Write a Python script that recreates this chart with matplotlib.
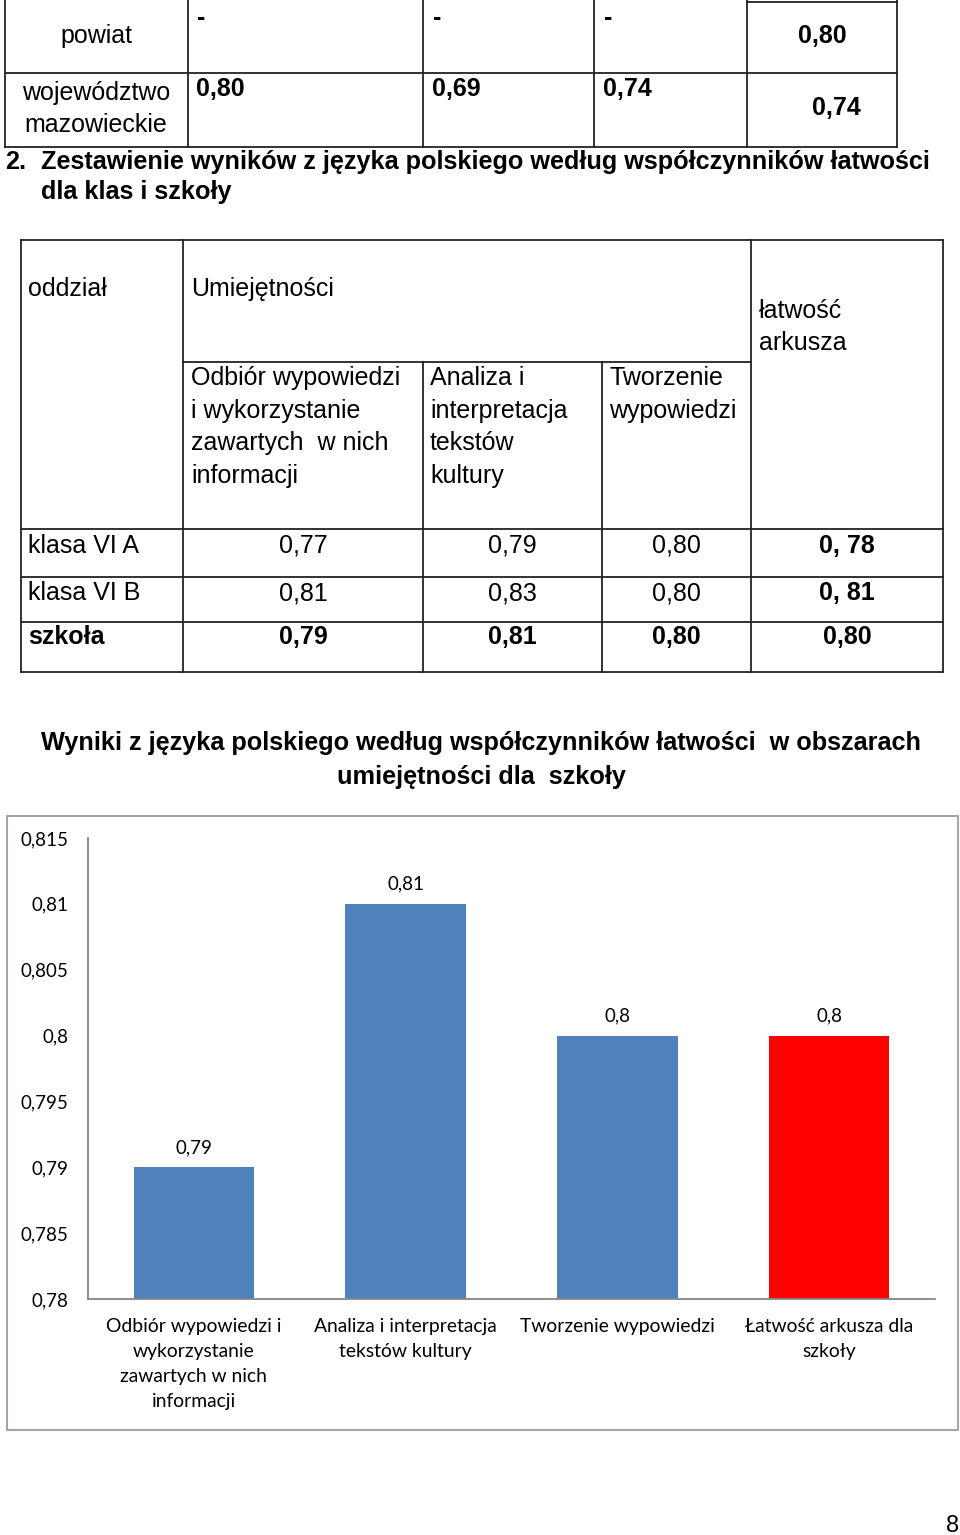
import numpy as np
import matplotlib.pyplot as plt
from matplotlib.patches import Rectangle

# --- data ---
top_rows = ['powiat', 'województwo\nmazowieckie']
top_skills = [['-', '-', '-'], ['0,80', '0,69', '0,74']]
top_sheet = ['0,80', '0,74']

class_rows = ['klasa VI A', 'klasa VI B', 'szkoła']
class_skills = [['0,77', '0,79', '0,80'],
                ['0,81', '0,83', '0,80'],
                ['0,79', '0,81', '0,80']]
class_sheet = ['0, 78', '0, 81', '0,80']
skill_headers = ['Odbiór wypowiedzi\ni wykorzystanie\nzawartych  w nich\ninformacji',
                 'Analiza i\ninterpretacja\ntekstów\nkultury',
                 'Tworzenie\nwypowiedzi']

categories = ['Odbiór wypowiedzi i\nwykorzystanie\nzawartych w nich\ninformacji',
              'Analiza i interpretacja\ntekstów kultury',
              'Tworzenie wypowiedzi',
              'Łatwość arkusza dla\nszkoły']
school_values = [0.79, 0.81, 0.80, 0.80]
bar_colors = ['#4F81BD', '#4F81BD', '#4F81BD', '#FF0000']


def pl(v):
    return f"{v:g}".replace('.', ',')


ARIAL = 'Liberation Sans'
LINE = '#222222'

fig = plt.figure(figsize=(9.6, 15.35), dpi=100)
bg = fig.add_axes([0, 0, 1, 1])
bg.set_xlim(0, 960)
bg.set_ylim(1535, 0)
bg.axis('off')


def hline(y, x0, x1):
    bg.plot([x0, x1], [y, y], color=LINE, lw=1.3)


def vline(x, y0, y1):
    bg.plot([x, x], [y0, y1], color=LINE, lw=1.3)


def txt(x, y, s, ha='left', bold=False, size=18, ls=1.3, va='center'):
    bg.text(x, y, s, ha=ha, va=va, fontsize=size, family=ARIAL,
            fontweight='bold' if bold else 'normal', linespacing=ls)


# --- top (partial) table ---
tcols = [5, 188, 423, 594, 747, 897]
for x in tcols:
    vline(x, 0, 147)
hline(2, 747, 897)
hline(73, 5, 897)
hline(147, 5, 897)

txt(96, 36, top_rows[0], ha='center')
txt(96, 109, top_rows[1], ha='center', ls=1.45)
for j, xs in enumerate([197, 433, 604]):
    txt(xs, 18, top_skills[0][j], bold=True)
    txt(xs - 1, 89, top_skills[1][j], bold=True)
txt(822, 36, top_sheet[0], ha='center', bold=True)
txt(836, 108, top_sheet[1], ha='center', bold=True)

# --- heading ---
txt(5, 162, '2.', bold=True, size=18.2)
txt(41, 162, 'Zestawienie wyników z języka polskiego według współczynników łatwości', bold=True, size=18.2)
txt(41, 192, 'dla klas i szkoły', bold=True, size=18.2)

# --- class table ---
cols = [21, 183, 423, 602, 751, 943]
rows = [240, 529, 577, 622, 672]
for x in [21, 183, 751, 943]:
    vline(x, 240, 672)
for x in [423, 602]:
    vline(x, 362, 672)
for y in rows:
    hline(y, 21, 943)
hline(362, 183, 751)

txt(28, 289, 'oddział')
txt(191, 289, 'Umiejętności')
txt(759, 327, 'łatwość\narkusza', ls=1.42)
for x, h in zip([191, 430, 609], skill_headers):
    txt(x, 366, h, va='top', ls=1.45)

row_y = [546, 593, 637]
centers = [(cols[i] + cols[i + 1]) / 2 for i in range(1, 5)]
for i, (lab, vals, sh) in enumerate(zip(class_rows, class_skills, class_sheet)):
    last = i == len(class_rows) - 1
    txt(28, row_y[i], lab, bold=last)
    for c, v in zip(centers[:3], vals):
        txt(c, row_y[i], v, ha='center', bold=last)
    txt(centers[3], row_y[i], sh, ha='center', bold=True)

# --- chart title and frame ---
txt(481, 743, 'Wyniki z języka polskiego według współczynników łatwości  w obszarach',
    ha='center', bold=True, size=18.2)
txt(481, 777, 'umiejętności dla  szkoły', ha='center', bold=True, size=18.2)
bg.add_patch(Rectangle((7, 816), 951, 614, fill=False, edgecolor='#A6A6A6', lw=1.5))

txt(953, 1526, '8', ha='center', size=17)

# --- bar chart ---
ax = fig.add_axes([88 / 960, (1535 - 1299) / 1535, (935 - 88) / 960, (1299 - 838) / 1535])
x = np.arange(len(categories))
bars = ax.bar(x, school_values, width=0.57, color=bar_colors, zorder=2)
ax.set_xlim(-0.5, len(categories) - 0.5)
ax.set_ylim(0.78, 0.815)
yt = np.arange(0.78, 0.8151, 0.005)
ax.set_yticks(yt)
ax.set_yticklabels([pl(round(v, 3)) for v in yt], family='Lato', fontsize=13.5)
ax.set_xticks(x)
ax.set_xticklabels(categories, family='Lato', fontsize=13.9, linespacing=1.56)
ax.tick_params(axis='both', length=0)
ax.tick_params(axis='y', pad=14)
ax.tick_params(axis='x', pad=14)
for s in ['top', 'right']:
    ax.spines[s].set_visible(False)
for s in ['left', 'bottom']:
    ax.spines[s].set_color('#868686')
    ax.spines[s].set_linewidth(1.3)
ax.bar_label(bars, labels=[pl(v) for v in school_values], padding=8,
             family='Lato', fontsize=13.5)

fig.savefig('out.png', dpi=100)
